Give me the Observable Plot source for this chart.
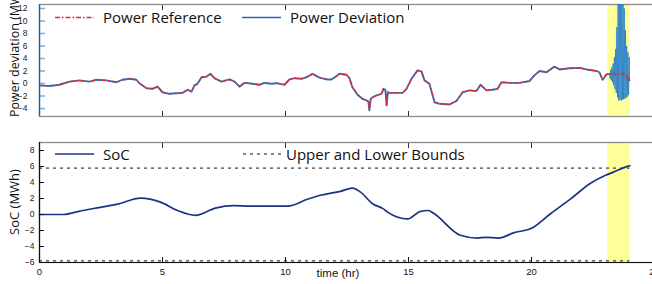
<!DOCTYPE html>
<html><head><meta charset="utf-8">
<script src="https://cdn.jsdelivr.net/npm/d3@7"></script>
<script src="https://cdn.jsdelivr.net/npm/@observablehq/plot@0.6"></script>
<style>
html,body{margin:0;padding:0;background:#fff;overflow:hidden}
#wrap{position:relative;width:652px;height:284px;overflow:hidden;background:#fff}
#top,#bot,#ov{position:absolute;left:0}
#top{top:0}
#bot{top:130px}
#ov{top:0;pointer-events:none}
</style></head><body>
<div id="wrap"><div id="top"></div><div id="bot"></div><svg id="ov" width="652" height="284"></svg></div>
<script>
// ---- data ----
const powerHours = [0,0.41,0.81,1.22,1.63,2.03,2.32,2.72,3.13,3.37,
  3.66,3.94,4.07,4.35,4.59,4.80,5.0,5.28,5.57,5.81,
  6.02,6.18,6.30,6.42,6.59,6.79,6.95,7.11,7.40,7.72,
  7.93,8.13,8.33,8.66,8.94,9.15,9.43,9.63,9.96,10.16,
  10.37,10.65,10.85,11.10,11.38,11.67,11.87,11.99,12.20,12.48,
  12.60,12.72,12.93,13.13,13.29,13.37,13.41,13.46,13.54,13.70,13.90,13.98,
  14.06,14.11,14.16,14.23,14.51,14.76,14.92,15.12,15.37,15.53,15.65,15.85,
  16.06,16.26,16.67,16.95,17.20,17.48,17.76,17.93,18.17,18.41,
  18.62,18.78,19.11,19.51,19.92,20.12,20.33,20.61,20.93,21.14,
  21.54,21.95,22.24,22.64,22.76,22.89,23.05,23.17];
const powerValues = [-0.3,-0.4,-0.2,0.3,0.5,0.3,0.6,0.5,0.2,0.6,
  0.75,0.6,0,-0.75,-0.85,-0.5,-1.4,-1.65,-1.55,-1.5,
  -1.0,-1.3,-0.3,-0.05,1.0,1.1,1.55,0.85,0.3,0.65,
  0.3,-0.5,0.1,-0.05,-0.2,0.1,-0.05,0.05,-0.2,0.65,
  0.85,0.75,1.0,1.55,0.95,0.65,0.65,0.95,1.55,1.4,
  0.85,-0.6,-1.8,-2.45,-2.7,-2.9,-4.3,-2.5,-2.2,-1.9,-1.65,-0.85,
  -1.0,-3.5,-1.4,-1.5,-1.5,-1.5,-0.85,0.75,2.1,1.9,0.5,-0.05,
  -3.0,-3.25,-3.35,-2.8,-1.4,-1.1,-1.2,-0.2,-1.1,-1.0,
  -0.85,0.2,0.1,0.1,0.4,1.3,2.0,1.8,2.7,2.25,
  2.45,2.5,2.25,2.0,1.8,0.6,1.45,1.55];
// last part of the day: deviation oscillates strongly, reference stays smooth
const devTailHours = [23.17,23.195,23.22,23.245,23.27,23.295,23.32,23.345,23.37,23.395,
  23.42,23.445,23.47,23.495,23.52,23.545,23.57,23.595,23.62,23.645,
  23.67,23.695,23.72,23.745,23.77,23.795,23.82,23.845,23.87,23.895,
  23.92,23.945,23.97,23.985];
const devTailValues = [1.55,0.8,2.2,0.5,2.6,0.2,3.2,-0.3,4.2,-0.9,
  5.5,-1.5,9.0,-2.2,14,-2.7,14,-2.6,14,-2.7,
  14,-2.6,14,-2.5,12,-2.4,8.5,-2.3,6.0,-2.1,
  5.0,-1.8,4.2,0.8];
const refTailHours = [23.25,23.35,23.45,23.55,23.65,23.75,23.85,23.90,23.95,24.0];
const refTailValues = [1.4,1.7,1.3,1.6,1.4,1.7,1.3,0.5,1.0,0.4];

const socHours = [0,0.98,1.6,2.48,3.17,4.11,4.92,5.61,6.34,7.15,7.89,8.58,10.08,10.89,11.42,12.24,12.72,13.05,13.54,13.98,14.15,14.96,15.49,15.81,16.02,17.11,17.80,18.13,18.66,19.27,20.04,20.77,21.59,22.40,23.01,23.33,23.94,24.0];
const socValues = [0,0,0.4,0.9,1.3,2.05,1.55,0.5,-0.1,0.8,1.1,1.05,1.05,1.9,2.4,2.9,3.3,2.8,1.35,0.7,0.3,-0.55,0.4,0.5,0.15,-2.6,-2.95,-2.85,-2.95,-2.3,-1.65,0.1,1.95,3.9,4.9,5.3,6.05,6.1];
const boundValues = [5.8, -5.8];
const boundHours = [0, 24];
const highlightHours = [23.1, 24.0];

const xTicks = [0,5,10,15,20,25];
const topYTicks = [-4,-2,0,2,4,6,8,10,12];
const botYTicks = [-6,-4,-2,0,2,4,6,8];
const topLegend = ["Power Reference","Power Deviation"];
const botLegend = ["SoC","Upper and Lower Bounds"];
const yLabels = ["Power deviation (MW)","SoC (MWh)"];
const xLabel = "time (hr)";

// ---- tables ----
const devData = powerHours.map((t,i)=>({t, v: powerValues[i]}));
const devTail = devTailHours.map((t,i)=>({t, v: devTailValues[i]}));
const refData = powerHours.map((t,i)=>({t, v: powerValues[i]}))
  .concat(refTailHours.map((t,i)=>({t, v: refTailValues[i]})));
const socData = socHours.map((t,i)=>({t, v: socValues[i]}));
const boundData = boundValues.map(v=>({v, t1: boundHours[0], t2: boundHours[1]}));
const hl = [{x1: highlightHours[0], x2: highlightHours[1]}];

const baseStyle = {fontFamily: "'Liberation Sans', Arial, sans-serif", fontSize: "9.5px", color: "#222", background: "transparent"};
const narrow = "'Liberation Sans Narrow', 'Liberation Sans', Arial, sans-serif";

const topPlot = Plot.plot({
  width: 652, height: 122,
  marginTop: 4, marginBottom: 6, marginLeft: 39, marginRight: -2,
  style: baseStyle,
  x: {domain: [0,25], range: [39,654], label: null},
  y: {domain: [-5.28,12.64], label: null},
  marks: [
    Plot.rect(hl, {x1: "x1", x2: "x2", fill: "#ffff99"}),
    Plot.frame({stroke: "#8a8a8a", strokeWidth: 1.3}),
    Plot.line(devData, {x: "t", y: "v", stroke: "#2a7cc6", strokeWidth: 1.9, clip: true}),
    Plot.line(devTail, {x: "t", y: "v", stroke: "#2a80cc", strokeWidth: 0.9, clip: true}),
    Plot.line(refData, {x: "t", y: "v", stroke: "#e4262c", strokeWidth: 1.3, strokeDasharray: "4,2.5,1.5,2.5", clip: true}),
    Plot.axisX(xTicks, {anchor: "top", tickSize: -5, text: null, stroke: "#333"}),
    Plot.axisX(xTicks, {anchor: "bottom", tickSize: -5, text: null, stroke: "#333"}),
    Plot.axisY(topYTicks, {anchor: "left", tickSize: -6, text: null, stroke: "#7ab3e0", strokeWidth: 1.6}),
    Plot.axisY(topYTicks, {anchor: "left", tickSize: 0, tickPadding: 12, fill: "#222", fontFamily: narrow, fontSize: 8.5}),
    Plot.ruleX([0], {stroke: "#1f5fae", strokeWidth: 1.3})
  ]
});
document.getElementById("top").append(topPlot);

const botPlot = Plot.plot({
  width: 652, height: 154,
  marginTop: 12, marginBottom: 22, marginLeft: 39, marginRight: -2,
  style: baseStyle,
  x: {domain: [0,25], range: [39,654], label: null},
  y: {domain: [-6,9], label: null},
  marks: [
    Plot.rect(hl, {x1: "x1", x2: "x2", fill: "#ffff99"}),
    Plot.frame({stroke: "#8a8a8a", strokeWidth: 1.3}),
    Plot.ruleY(boundData, {y: "v", x1: "t1", x2: "t2", stroke: "#111", strokeWidth: 1, strokeDasharray: "3,4"}),
    Plot.line(socData, {x: "t", y: "v", stroke: "#1b3384", strokeWidth: 1.7, curve: "monotone-x"}),
    Plot.axisX(xTicks, {anchor: "top", tickSize: -5, text: null, stroke: "#333"}),
    Plot.axisX(xTicks, {anchor: "bottom", tickSize: -5, text: null, stroke: "#111"}),
    Plot.axisX(xTicks, {anchor: "bottom", tickSize: 0, tickPadding: 6, fill: "#111"}),
    Plot.axisY(botYTicks, {anchor: "left", tickSize: -5, text: null, stroke: "#111"}),
    Plot.axisY(botYTicks, {anchor: "left", tickSize: 0, tickPadding: 5, fill: "#222", fontFamily: narrow, fontSize: 8.5}),
    Plot.ruleY([-6], {stroke: "#111", strokeWidth: 1.2}),
    Plot.ruleX([0], {stroke: "#111", strokeWidth: 1.2})
  ]
});
document.getElementById("bot").append(botPlot);

// ---- overlay: axis titles and legends ----
const ov = d3.select("#ov");
const labFont = "'Open Sans', 'Noto Sans', sans-serif";
ov.append("text").attr("transform", "translate(18.5,117) rotate(-90)")
  .attr("font-family", labFont).attr("font-size", 12.5).attr("fill", "#111").text(yLabels[0]);
ov.append("text").attr("transform", "translate(18.5,202) rotate(-90)").attr("text-anchor", "middle")
  .attr("font-family", labFont).attr("font-size", 13).attr("fill", "#111").text(yLabels[1]);
ov.append("text").attr("x", 338).attr("y", 277).attr("text-anchor", "middle")
  .attr("font-family", narrow).attr("font-size", 11.5).attr("fill", "#111").text(xLabel);

function legendItem(x, y, label, stroke, dash, width) {
  const l = ov.append("line").attr("x1", x).attr("x2", x + 39).attr("y1", y).attr("y2", y)
    .attr("stroke", stroke).attr("stroke-width", width);
  if (dash) l.attr("stroke-dasharray", dash);
  ov.append("text").attr("x", x + 48).attr("y", y + 5.5).attr("font-family", labFont)
    .attr("font-size", 15).attr("fill", "#111").text(label);
}
legendItem(55, 17.5, topLegend[0], "#e4262c", "5,2,1.5,2", 1.4);
legendItem(242, 17.5, topLegend[1], "#2f5fb3", null, 1.4);
legendItem(55, 154, botLegend[0], "#1b3384", null, 1.6);
ov.append("line").attr("x1", 243).attr("x2", 283).attr("y1", 154).attr("y2", 154)
  .attr("stroke", "#111").attr("stroke-dasharray", "3,4");
ov.append("text").attr("x", 286).attr("y", 159.5).attr("font-family", labFont)
  .attr("font-size", 15).attr("fill", "#111").text(botLegend[1]);
</script>
</body></html>
